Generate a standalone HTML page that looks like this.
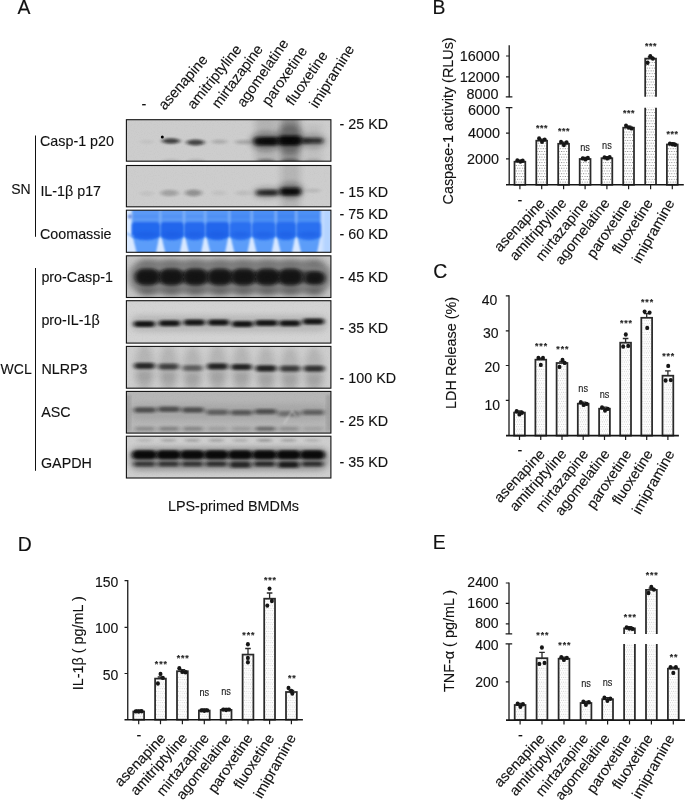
<!DOCTYPE html>
<html lang="en"><head><meta charset="utf-8"><title>Figure</title>
<style>html,body{margin:0;padding:0;background:#fff}body{width:685px;height:801px;overflow:hidden}svg{display:block}text{white-space:pre;stroke:#111;stroke-width:0.12px;paint-order:stroke}</style>
</head><body>
<svg width="685" height="801" viewBox="0 0 685 801" font-family='"Liberation Sans", Arial, Helvetica, sans-serif' fill="#111">
<defs>
<pattern id="dots" width="2.45" height="5.56" patternUnits="userSpaceOnUse"><rect width="2.45" height="5.56" fill="#fff"/><circle cx="0.6" cy="1.4" r="0.52" fill="#606060"/><circle cx="1.83" cy="4.18" r="0.52" fill="#606060"/></pattern>
<pattern id="dots2" width="2.2" height="4.6" patternUnits="userSpaceOnUse"><rect width="2.2" height="4.6" fill="#fff"/><circle cx="0.55" cy="1.15" r="0.45" fill="#a4a4a4"/><circle cx="1.65" cy="3.45" r="0.45" fill="#a4a4a4"/></pattern>
<filter id="b1" x="-50%" y="-100%" width="200%" height="300%"><feGaussianBlur stdDeviation="2.0 1.3"/></filter>
<filter id="b2" x="-50%" y="-100%" width="200%" height="300%"><feGaussianBlur stdDeviation="2.2 1.7"/></filter>
<filter id="b3" x="-100%" y="-100%" width="300%" height="300%"><feGaussianBlur stdDeviation="3 2.6"/></filter>
<filter id="b03" x="-50%" y="-50%" width="200%" height="200%"><feGaussianBlur stdDeviation="0.5"/></filter>
<filter id="b08" x="-20%" y="-50%" width="140%" height="200%"><feGaussianBlur stdDeviation="0.9"/></filter>
<filter id="b05" x="-20%" y="-100%" width="140%" height="300%"><feGaussianBlur stdDeviation="1.2 0.8"/></filter>
<filter id="noise" x="0" y="0" width="100%" height="100%"><feTurbulence type="fractalNoise" baseFrequency="0.9" numOctaves="2" seed="3" result="n"/><feColorMatrix type="matrix" values="0 0 0 0 0  0 0 0 0 0  0 0 0 0 0  0.9 0 0 0 -0.38"/></filter>
</defs>
<rect width="685" height="801" fill="#fff"/>
<text x="17.6" y="14.3" font-size="19.4" text-anchor="start">A</text>
<text x="432.6" y="14.2" font-size="19.4" text-anchor="start">B</text>
<text x="433.2" y="277.9" font-size="19.4" text-anchor="start">C</text>
<text x="17.7" y="551" font-size="19.4" text-anchor="start">D</text>
<text x="432.8" y="548.9" font-size="19.4" text-anchor="start">E</text>
<clipPath id="cp_casp"><rect x="126.4" y="119.7" width="204.49999999999997" height="41.499999999999986"/></clipPath>
<g clip-path="url(#cp_casp)"><rect x="126.4" y="119.7" width="204.49999999999997" height="41.499999999999986" fill="#cdcdcd"/>
<ellipse cx="147.0" cy="141.8" rx="7.0" ry="2.0" fill="#0a0a0a" opacity="0.05" filter="url(#b1)"/>
<ellipse cx="171.0" cy="141.0" rx="9.0" ry="2.8" fill="#0a0a0a" opacity="0.72" filter="url(#b1)"/>
<ellipse cx="195.5" cy="142.4" rx="9.0" ry="3.0" fill="#0a0a0a" opacity="0.7" filter="url(#b1)"/>
<ellipse cx="219.5" cy="141.8" rx="8.0" ry="2.2" fill="#0a0a0a" opacity="0.16" filter="url(#b1)"/>
<ellipse cx="243.5" cy="142.0" rx="8.5" ry="2.3" fill="#0a0a0a" opacity="0.18" filter="url(#b1)"/>
<rect x="255" y="116" width="22" height="50" fill="#111" opacity="0.13" filter="url(#b3)"/>
<rect x="280" y="112" width="20" height="56" fill="#111" opacity="0.30" filter="url(#b3)"/>
<rect x="304" y="124" width="18" height="42" fill="#111" opacity="0.06" filter="url(#b3)"/>
<ellipse cx="266.0" cy="141.3" rx="16.0" ry="10.0" fill="#0a0a0a" opacity="0.3" filter="url(#b3)"/>
<ellipse cx="290.0" cy="139.0" rx="14.0" ry="15.0" fill="#0a0a0a" opacity="0.3" filter="url(#b3)"/>
<ellipse cx="313.0" cy="141.0" rx="13.5" ry="7.5" fill="#0a0a0a" opacity="0.22" filter="url(#b3)"/>
<rect x="253.5" y="137.1" width="25.0" height="8.4" rx="4.2" fill="#0a0a0a" opacity="0.9" filter="url(#b2)"/>
<rect x="278.0" y="135.4" width="24.0" height="10.0" rx="5.0" fill="#0a0a0a" opacity="0.95" filter="url(#b2)"/>
<rect x="302.0" y="138.0" width="21.0" height="5.6" rx="2.8" fill="#0a0a0a" opacity="0.74" filter="url(#b2)"/>
<rect x="261.0" y="138.5" width="34.0" height="5.0" rx="2.5" fill="#0a0a0a" opacity="0.6" filter="url(#b2)"/>
<rect x="292.0" y="139.2" width="18.0" height="3.6" rx="1.8" fill="#0a0a0a" opacity="0.4" filter="url(#b2)"/>
<rect x="258.0" y="139.8" width="16.0" height="3.4" rx="1.7" fill="#000" opacity="0.45" filter="url(#b1)"/>
<rect x="282.0" y="138.3" width="16.0" height="4.6" rx="2.3" fill="#000" opacity="0.55" filter="url(#b1)"/>
<circle cx="162.3" cy="136.9" r="1.5" fill="#000" filter="url(#b03)"/>
<ellipse cx="171.0" cy="160.8" rx="9.0" ry="2.3" fill="#0a0a0a" opacity="0.08" filter="url(#b1)"/>
<ellipse cx="196.0" cy="160.8" rx="9.0" ry="2.3" fill="#0a0a0a" opacity="0.1" filter="url(#b1)"/>
<ellipse cx="266.0" cy="160.8" rx="9.0" ry="2.3" fill="#0a0a0a" opacity="0.3" filter="url(#b1)"/>
<ellipse cx="290.0" cy="160.8" rx="9.0" ry="2.3" fill="#0a0a0a" opacity="0.34" filter="url(#b1)"/>
<ellipse cx="313.0" cy="160.8" rx="9.0" ry="2.3" fill="#0a0a0a" opacity="0.12" filter="url(#b1)"/>
<rect x="126.4" y="119.7" width="204.49999999999997" height="41.499999999999986" filter="url(#noise)" opacity="0.05"/>
</g>
<rect x="126.4" y="119.7" width="204.49999999999997" height="41.499999999999986" fill="none" stroke="#111" stroke-width="1.1"/>
<clipPath id="cp_il1"><rect x="126.4" y="165.5" width="204.49999999999997" height="41.30000000000001"/></clipPath>
<g clip-path="url(#cp_il1)"><rect x="126.4" y="165.5" width="204.49999999999997" height="41.30000000000001" fill="#cdcdcd"/>
<ellipse cx="147.0" cy="193.5" rx="7.0" ry="2.5" fill="#0a0a0a" opacity="0.05" filter="url(#b1)"/>
<ellipse cx="169.5" cy="193.0" rx="9.0" ry="3.2" fill="#0a0a0a" opacity="0.22" filter="url(#b1)"/>
<ellipse cx="193.5" cy="192.9" rx="8.5" ry="3.5" fill="#0a0a0a" opacity="0.3" filter="url(#b1)"/>
<ellipse cx="219.0" cy="193.0" rx="7.0" ry="2.5" fill="#0a0a0a" opacity="0.06" filter="url(#b1)"/>
<ellipse cx="243.0" cy="193.0" rx="7.5" ry="2.5" fill="#0a0a0a" opacity="0.08" filter="url(#b1)"/>
<ellipse cx="313.0" cy="190.5" rx="7.5" ry="2.0" fill="#0a0a0a" opacity="0.1" filter="url(#b1)"/>
<rect x="281" y="160" width="19" height="52" fill="#111" opacity="0.12" filter="url(#b3)"/>
<ellipse cx="267.0" cy="192.6" rx="14.0" ry="6.5" fill="#0a0a0a" opacity="0.2" filter="url(#b3)"/>
<ellipse cx="290.5" cy="190.5" rx="13.0" ry="8.5" fill="#0a0a0a" opacity="0.3" filter="url(#b3)"/>
<rect x="256.0" y="189.8" width="22.0" height="6.0" rx="3.0" fill="#0a0a0a" opacity="0.72" filter="url(#b2)"/>
<rect x="280.0" y="187.6" width="21.0" height="8.0" rx="4.0" fill="#0a0a0a" opacity="0.9" filter="url(#b2)"/>
<rect x="264.0" y="190.7" width="28.0" height="3.4" rx="1.7" fill="#0a0a0a" opacity="0.3" filter="url(#b2)"/>
<rect x="283.5" y="190.1" width="14.0" height="3.4" rx="1.7" fill="#000" opacity="0.45" filter="url(#b1)"/>
<rect x="260.5" y="191.7" width="13.0" height="2.2" rx="1.1" fill="#000" opacity="0.2" filter="url(#b1)"/>
<rect x="126.4" y="165.5" width="204.49999999999997" height="41.30000000000001" filter="url(#noise)" opacity="0.05"/>
</g>
<rect x="126.4" y="165.5" width="204.49999999999997" height="41.30000000000001" fill="none" stroke="#111" stroke-width="1.1"/>
<clipPath id="cp_coo"><rect x="126.4" y="210.2" width="204.49999999999997" height="42.10000000000002"/></clipPath>
<g clip-path="url(#cp_coo)"><rect x="126.4" y="210.2" width="204.49999999999997" height="42.10000000000002" fill="#d9e9ff"/>
<g filter="url(#b08)">
<rect x="131.6" y="208.2" width="189.8" height="29" fill="#7fb2f9"/>
<rect x="132.6" y="208.2" width="26.7" height="16" fill="#5b99f6"/>
<path d="M132.1 234 L159.8 234 L155.7 254.3 L137.0 254.3 Z" fill="#5c9df9"/>
<rect x="133.6" y="215.6" width="24.7" height="1.6" fill="#2d6fe8" opacity="0.3"/>
<rect x="161.3" y="208.2" width="21.7" height="16" fill="#5b99f6"/>
<path d="M160.8 234 L183.5 234 L179.4 254.3 L165.7 254.3 Z" fill="#5c9df9"/>
<rect x="162.3" y="215.6" width="19.7" height="1.6" fill="#2d6fe8" opacity="0.3"/>
<rect x="185.0" y="208.2" width="19.3" height="16" fill="#5d9bf7"/>
<path d="M184.5 234 L204.8 234 L200.7 254.3 L189.4 254.3 Z" fill="#5c9df9"/>
<rect x="186.0" y="215.6" width="17.3" height="1.6" fill="#2d6fe8" opacity="0.3"/>
<rect x="206.3" y="208.2" width="22.1" height="16" fill="#5696f6"/>
<path d="M205.8 234 L228.9 234 L224.8 254.3 L210.7 254.3 Z" fill="#5c9df9"/>
<rect x="207.3" y="215.6" width="20.1" height="1.6" fill="#2d6fe8" opacity="0.3"/>
<rect x="230.4" y="208.2" width="20.3" height="16" fill="#4b8ef5"/>
<path d="M229.9 234 L251.2 234 L247.1 254.3 L234.8 254.3 Z" fill="#5c9df9"/>
<rect x="231.4" y="215.6" width="18.3" height="1.6" fill="#2d6fe8" opacity="0.3"/>
<rect x="252.7" y="208.2" width="22.1" height="16" fill="#4b8ef5"/>
<path d="M252.2 234 L275.3 234 L271.2 254.3 L257.1 254.3 Z" fill="#5c9df9"/>
<rect x="253.7" y="215.6" width="20.1" height="1.6" fill="#2d6fe8" opacity="0.3"/>
<rect x="276.8" y="208.2" width="18.4" height="16" fill="#468af4"/>
<path d="M276.3 234 L295.7 234 L291.6 254.3 L281.2 254.3 Z" fill="#5c9df9"/>
<rect x="277.8" y="215.6" width="16.4" height="1.6" fill="#2d6fe8" opacity="0.3"/>
<rect x="297.2" y="208.2" width="23.2" height="16" fill="#4e90f5"/>
<path d="M296.7 234 L320.9 234 L316.8 254.3 L301.6 254.3 Z" fill="#5c9df9"/>
<rect x="298.2" y="215.6" width="21.2" height="1.6" fill="#2d6fe8" opacity="0.3"/>
</g>
<path d="M131.8 226 Q131.8 222.0 135.6 222.0 L156.3 222.0 Q160.1 222.0 160.1 226 L160.1 234.6 Q159.7 240.0 145.9 240.2 Q132.2 240.0 131.8 234.6 Z" fill="#2369ee" filter="url(#b08)"/>
<ellipse cx="145.9" cy="234.5" rx="12.4" ry="3.0" fill="#1456de" opacity="0.38" filter="url(#b1)"/>
<path d="M160.5 226 Q160.5 222.0 164.3 222.0 L180.0 222.0 Q183.8 222.0 183.8 226 L183.8 234.6 Q183.4 240.0 172.2 240.2 Q160.9 240.0 160.5 234.6 Z" fill="#2166ec" filter="url(#b08)"/>
<ellipse cx="172.2" cy="234.5" rx="9.8" ry="3.0" fill="#1456de" opacity="0.38" filter="url(#b1)"/>
<path d="M184.2 226 Q184.2 222.0 188.0 222.0 L201.3 222.0 Q205.1 222.0 205.1 226 L205.1 234.6 Q204.7 240.0 194.7 240.2 Q184.6 240.0 184.2 234.6 Z" fill="#256bee" filter="url(#b08)"/>
<ellipse cx="194.7" cy="234.5" rx="8.7" ry="3.0" fill="#1456de" opacity="0.38" filter="url(#b1)"/>
<path d="M205.5 226 Q205.5 222.0 209.3 222.0 L225.4 222.0 Q229.2 222.0 229.2 226 L229.2 234.6 Q228.8 240.0 217.4 240.2 Q205.9 240.0 205.5 234.6 Z" fill="#2166ec" filter="url(#b08)"/>
<ellipse cx="217.4" cy="234.5" rx="10.0" ry="3.0" fill="#1456de" opacity="0.38" filter="url(#b1)"/>
<path d="M229.6 226 Q229.6 222.0 233.4 222.0 L247.7 222.0 Q251.5 222.0 251.5 226 L251.5 234.6 Q251.1 240.0 240.6 240.2 Q230.0 240.0 229.6 234.6 Z" fill="#2970f0" filter="url(#b08)"/>
<ellipse cx="240.6" cy="234.5" rx="9.1" ry="3.0" fill="#1456de" opacity="0.38" filter="url(#b1)"/>
<path d="M251.9 226 Q251.9 222.0 255.7 222.0 L271.8 222.0 Q275.6 222.0 275.6 226 L275.6 234.6 Q275.2 240.0 263.8 240.2 Q252.3 240.0 251.9 234.6 Z" fill="#2970f0" filter="url(#b08)"/>
<ellipse cx="263.8" cy="234.5" rx="10.1" ry="3.0" fill="#1456de" opacity="0.38" filter="url(#b1)"/>
<path d="M276.0 226 Q276.0 222.0 279.8 222.0 L292.2 222.0 Q296.0 222.0 296.0 226 L296.0 234.6 Q295.6 240.0 286.0 240.2 Q276.4 240.0 276.0 234.6 Z" fill="#256cee" filter="url(#b08)"/>
<ellipse cx="286.0" cy="234.5" rx="8.2" ry="3.0" fill="#1456de" opacity="0.38" filter="url(#b1)"/>
<path d="M296.4 226 Q296.4 222.0 300.2 222.0 L317.4 222.0 Q321.2 222.0 321.2 226 L321.2 234.6 Q320.8 240.0 308.8 240.2 Q296.8 240.0 296.4 234.6 Z" fill="#2970f0" filter="url(#b08)"/>
<ellipse cx="308.8" cy="234.5" rx="10.6" ry="3.0" fill="#1456de" opacity="0.38" filter="url(#b1)"/>
<circle cx="130" cy="216.5" r="2.2" fill="#4a6fd0" opacity="0.7" filter="url(#b05)"/>
<path d="M127 233 Q131 237 134 236" stroke="#6aa4f8" stroke-width="2" fill="none" opacity="0.7" filter="url(#b05)"/>
<rect x="322.5" y="210.2" width="10" height="44" fill="#a9cdff" opacity="0.8" filter="url(#b1)"/>
</g>
<rect x="126.4" y="210.2" width="204.49999999999997" height="42.10000000000002" fill="none" stroke="#111" stroke-width="1.1"/>
<clipPath id="cp_pcasp"><rect x="126.4" y="255.8" width="204.49999999999997" height="41.69999999999999"/></clipPath>
<g clip-path="url(#cp_pcasp)"><rect x="126.4" y="255.8" width="204.49999999999997" height="41.69999999999999" fill="#c4c4c4"/>
<rect x="129" y="260" width="202" height="34" rx="16" fill="#555" opacity="0.62" filter="url(#b3)"/>
<rect x="136" y="271" width="186" height="12" rx="6" fill="#111" opacity="0.45" filter="url(#b2)"/>
<rect x="135.1" y="268.5" width="24.5" height="17.0" rx="8.5" fill="#0c0c0c" opacity="0.8" filter="url(#b2)"/>
<rect x="138.8" y="273.0" width="17.0" height="8.0" rx="4.0" fill="#000" opacity="0.2" filter="url(#b2)"/>
<ellipse cx="147.3" cy="292.0" rx="8.5" ry="4.5" fill="#0a0a0a" opacity="0.25" filter="url(#b3)"/>
<ellipse cx="147.3" cy="262.0" rx="8.5" ry="3.5" fill="#0a0a0a" opacity="0.12" filter="url(#b3)"/>
<rect x="159.2" y="268.5" width="24.5" height="17.0" rx="8.5" fill="#0c0c0c" opacity="0.8" filter="url(#b2)"/>
<rect x="162.9" y="273.0" width="17.0" height="8.0" rx="4.0" fill="#000" opacity="0.2" filter="url(#b2)"/>
<ellipse cx="171.4" cy="292.0" rx="8.5" ry="4.5" fill="#0a0a0a" opacity="0.25" filter="url(#b3)"/>
<ellipse cx="171.4" cy="262.0" rx="8.5" ry="3.5" fill="#0a0a0a" opacity="0.12" filter="url(#b3)"/>
<rect x="183.2" y="268.5" width="24.5" height="17.0" rx="8.5" fill="#0c0c0c" opacity="0.8" filter="url(#b2)"/>
<rect x="187.0" y="273.0" width="17.0" height="8.0" rx="4.0" fill="#000" opacity="0.2" filter="url(#b2)"/>
<ellipse cx="195.5" cy="292.0" rx="8.5" ry="4.5" fill="#0a0a0a" opacity="0.25" filter="url(#b3)"/>
<ellipse cx="195.5" cy="262.0" rx="8.5" ry="3.5" fill="#0a0a0a" opacity="0.12" filter="url(#b3)"/>
<rect x="207.8" y="268.5" width="24.5" height="17.0" rx="8.5" fill="#0c0c0c" opacity="0.8" filter="url(#b2)"/>
<rect x="211.5" y="273.0" width="17.0" height="8.0" rx="4.0" fill="#000" opacity="0.2" filter="url(#b2)"/>
<ellipse cx="220.0" cy="292.0" rx="8.5" ry="4.5" fill="#0a0a0a" opacity="0.25" filter="url(#b3)"/>
<ellipse cx="220.0" cy="262.0" rx="8.5" ry="3.5" fill="#0a0a0a" opacity="0.12" filter="url(#b3)"/>
<rect x="231.3" y="268.5" width="24.5" height="17.0" rx="8.5" fill="#0c0c0c" opacity="0.8" filter="url(#b2)"/>
<rect x="235.1" y="273.0" width="17.0" height="8.0" rx="4.0" fill="#000" opacity="0.2" filter="url(#b2)"/>
<ellipse cx="243.6" cy="292.0" rx="8.5" ry="4.5" fill="#0a0a0a" opacity="0.25" filter="url(#b3)"/>
<ellipse cx="243.6" cy="262.0" rx="8.5" ry="3.5" fill="#0a0a0a" opacity="0.12" filter="url(#b3)"/>
<rect x="255.2" y="268.5" width="24.5" height="17.0" rx="8.5" fill="#0c0c0c" opacity="0.8" filter="url(#b2)"/>
<rect x="259.0" y="273.0" width="17.0" height="8.0" rx="4.0" fill="#000" opacity="0.2" filter="url(#b2)"/>
<ellipse cx="267.5" cy="292.0" rx="8.5" ry="4.5" fill="#0a0a0a" opacity="0.25" filter="url(#b3)"/>
<ellipse cx="267.5" cy="262.0" rx="8.5" ry="3.5" fill="#0a0a0a" opacity="0.12" filter="url(#b3)"/>
<rect x="278.2" y="268.5" width="24.5" height="17.0" rx="8.5" fill="#0c0c0c" opacity="0.8" filter="url(#b2)"/>
<rect x="282.0" y="273.0" width="17.0" height="8.0" rx="4.0" fill="#000" opacity="0.2" filter="url(#b2)"/>
<ellipse cx="290.5" cy="292.0" rx="8.5" ry="4.5" fill="#0a0a0a" opacity="0.25" filter="url(#b3)"/>
<ellipse cx="290.5" cy="262.0" rx="8.5" ry="3.5" fill="#0a0a0a" opacity="0.12" filter="url(#b3)"/>
<rect x="304.8" y="271.7" width="20.5" height="13.0" rx="6.5" fill="#0c0c0c" opacity="0.8" filter="url(#b2)"/>
<rect x="308.5" y="276.2" width="13.0" height="4.0" rx="2.0" fill="#000" opacity="0.2" filter="url(#b2)"/>
<ellipse cx="315.0" cy="292.0" rx="8.5" ry="4.5" fill="#0a0a0a" opacity="0.25" filter="url(#b3)"/>
<ellipse cx="315.0" cy="262.0" rx="8.5" ry="3.5" fill="#0a0a0a" opacity="0.12" filter="url(#b3)"/>
<rect x="126.4" y="255.8" width="204.49999999999997" height="41.69999999999999" filter="url(#noise)" opacity="0.05"/>
</g>
<rect x="126.4" y="255.8" width="204.49999999999997" height="41.69999999999999" fill="none" stroke="#111" stroke-width="1.1"/>
<clipPath id="cp_pil"><rect x="126.4" y="300.7" width="204.49999999999997" height="42.400000000000034"/></clipPath>
<g clip-path="url(#cp_pil)"><rect x="126.4" y="300.7" width="204.49999999999997" height="42.400000000000034" fill="#d3d3d3"/>
<rect x="131" y="315" width="196" height="17" rx="8" fill="#555" opacity="0.20" filter="url(#b3)"/>
<rect x="133.6" y="321.1" width="21.5" height="6.0" rx="3.0" fill="#0c0c0c" opacity="0.88" filter="url(#b1)"/>
<rect x="136.6" y="322.8" width="15.5" height="2.6" rx="1.3" fill="#000" opacity="0.4" filter="url(#b1)"/>
<rect x="158.8" y="320.3" width="21.5" height="6.0" rx="3.0" fill="#0c0c0c" opacity="0.88" filter="url(#b1)"/>
<rect x="161.8" y="322.0" width="15.5" height="2.6" rx="1.3" fill="#000" opacity="0.4" filter="url(#b1)"/>
<rect x="183.6" y="319.6" width="21.5" height="6.0" rx="3.0" fill="#0c0c0c" opacity="0.88" filter="url(#b1)"/>
<rect x="186.6" y="321.3" width="15.5" height="2.6" rx="1.3" fill="#000" opacity="0.4" filter="url(#b1)"/>
<rect x="207.8" y="319.6" width="21.5" height="6.0" rx="3.0" fill="#0c0c0c" opacity="0.88" filter="url(#b1)"/>
<rect x="210.8" y="321.3" width="15.5" height="2.6" rx="1.3" fill="#000" opacity="0.4" filter="url(#b1)"/>
<rect x="231.8" y="321.1" width="21.5" height="6.0" rx="3.0" fill="#0c0c0c" opacity="0.88" filter="url(#b1)"/>
<rect x="234.8" y="322.8" width="15.5" height="2.6" rx="1.3" fill="#000" opacity="0.4" filter="url(#b1)"/>
<rect x="254.8" y="320.0" width="23.0" height="6.0" rx="3.0" fill="#0c0c0c" opacity="0.88" filter="url(#b1)"/>
<rect x="257.8" y="321.7" width="17.0" height="2.6" rx="1.3" fill="#000" opacity="0.4" filter="url(#b1)"/>
<rect x="279.1" y="320.2" width="21.5" height="6.0" rx="3.0" fill="#0c0c0c" opacity="0.88" filter="url(#b1)"/>
<rect x="282.1" y="321.9" width="15.5" height="2.6" rx="1.3" fill="#000" opacity="0.4" filter="url(#b1)"/>
<rect x="302.6" y="318.6" width="21.5" height="6.0" rx="3.0" fill="#0c0c0c" opacity="0.88" filter="url(#b1)"/>
<rect x="305.6" y="320.3" width="15.5" height="2.6" rx="1.3" fill="#000" opacity="0.4" filter="url(#b1)"/>
<rect x="126.4" y="300.7" width="204.49999999999997" height="42.400000000000034" filter="url(#noise)" opacity="0.05"/>
</g>
<rect x="126.4" y="300.7" width="204.49999999999997" height="42.400000000000034" fill="none" stroke="#111" stroke-width="1.1"/>
<clipPath id="cp_nlrp"><rect x="126.4" y="346.4" width="204.49999999999997" height="41.80000000000001"/></clipPath>
<g clip-path="url(#cp_nlrp)"><rect x="126.4" y="346.4" width="204.49999999999997" height="41.80000000000001" fill="#cdcdcd"/>
<ellipse cx="144.5" cy="368.4" rx="9.5" ry="24.0" fill="#0a0a0a" opacity="0.12" filter="url(#b3)"/>
<rect x="134.0" y="362.7" width="21.0" height="6.2" rx="3.1" fill="#0c0c0c" opacity="0.765" filter="url(#b1)"/>
<rect x="137.5" y="364.6" width="14.0" height="2.4" rx="1.2" fill="#000" opacity="0.2975" filter="url(#b1)"/>
<ellipse cx="144.5" cy="376.4" rx="8.0" ry="6.0" fill="#0a0a0a" opacity="0.1" filter="url(#b3)"/>
<ellipse cx="168.5" cy="369.2" rx="9.5" ry="24.0" fill="#0a0a0a" opacity="0.12" filter="url(#b3)"/>
<rect x="158.0" y="363.5" width="21.0" height="6.2" rx="3.1" fill="#0c0c0c" opacity="0.6120000000000001" filter="url(#b1)"/>
<rect x="161.5" y="365.4" width="14.0" height="2.4" rx="1.2" fill="#000" opacity="0.238" filter="url(#b1)"/>
<ellipse cx="168.5" cy="377.2" rx="8.0" ry="6.0" fill="#0a0a0a" opacity="0.1" filter="url(#b3)"/>
<ellipse cx="192.5" cy="370.6" rx="9.5" ry="24.0" fill="#0a0a0a" opacity="0.12" filter="url(#b3)"/>
<rect x="182.0" y="364.9" width="21.0" height="6.2" rx="3.1" fill="#0c0c0c" opacity="0.432" filter="url(#b1)"/>
<rect x="185.5" y="366.8" width="14.0" height="2.4" rx="1.2" fill="#000" opacity="0.16799999999999998" filter="url(#b1)"/>
<ellipse cx="192.5" cy="378.6" rx="8.0" ry="6.0" fill="#0a0a0a" opacity="0.1" filter="url(#b3)"/>
<ellipse cx="217.5" cy="369.0" rx="9.5" ry="24.0" fill="#0a0a0a" opacity="0.12" filter="url(#b3)"/>
<rect x="207.0" y="363.3" width="21.0" height="6.2" rx="3.1" fill="#0c0c0c" opacity="0.792" filter="url(#b1)"/>
<rect x="210.5" y="365.2" width="14.0" height="2.4" rx="1.2" fill="#000" opacity="0.308" filter="url(#b1)"/>
<ellipse cx="217.5" cy="377.0" rx="8.0" ry="6.0" fill="#0a0a0a" opacity="0.1" filter="url(#b3)"/>
<ellipse cx="241.5" cy="369.6" rx="9.5" ry="24.0" fill="#0a0a0a" opacity="0.12" filter="url(#b3)"/>
<rect x="231.0" y="363.9" width="21.0" height="6.2" rx="3.1" fill="#0c0c0c" opacity="0.792" filter="url(#b1)"/>
<rect x="234.5" y="365.8" width="14.0" height="2.4" rx="1.2" fill="#000" opacity="0.308" filter="url(#b1)"/>
<ellipse cx="241.5" cy="377.6" rx="8.0" ry="6.0" fill="#0a0a0a" opacity="0.1" filter="url(#b3)"/>
<ellipse cx="266.0" cy="371.0" rx="9.5" ry="24.0" fill="#0a0a0a" opacity="0.12" filter="url(#b3)"/>
<rect x="255.5" y="365.3" width="21.0" height="6.2" rx="3.1" fill="#0c0c0c" opacity="0.81" filter="url(#b1)"/>
<rect x="259.0" y="367.2" width="14.0" height="2.4" rx="1.2" fill="#000" opacity="0.315" filter="url(#b1)"/>
<ellipse cx="266.0" cy="379.0" rx="8.0" ry="6.0" fill="#0a0a0a" opacity="0.1" filter="url(#b3)"/>
<ellipse cx="290.0" cy="371.2" rx="9.5" ry="24.0" fill="#0a0a0a" opacity="0.12" filter="url(#b3)"/>
<rect x="279.5" y="365.5" width="21.0" height="6.2" rx="3.1" fill="#0c0c0c" opacity="0.648" filter="url(#b1)"/>
<rect x="283.0" y="367.4" width="14.0" height="2.4" rx="1.2" fill="#000" opacity="0.252" filter="url(#b1)"/>
<ellipse cx="290.0" cy="379.2" rx="8.0" ry="6.0" fill="#0a0a0a" opacity="0.1" filter="url(#b3)"/>
<ellipse cx="314.0" cy="371.2" rx="9.5" ry="24.0" fill="#0a0a0a" opacity="0.12" filter="url(#b3)"/>
<rect x="303.5" y="365.5" width="21.0" height="6.2" rx="3.1" fill="#0c0c0c" opacity="0.7020000000000001" filter="url(#b1)"/>
<rect x="307.0" y="367.4" width="14.0" height="2.4" rx="1.2" fill="#000" opacity="0.27299999999999996" filter="url(#b1)"/>
<ellipse cx="314.0" cy="379.2" rx="8.0" ry="6.0" fill="#0a0a0a" opacity="0.1" filter="url(#b3)"/>
<rect x="126.4" y="346.4" width="204.49999999999997" height="41.80000000000001" filter="url(#noise)" opacity="0.05"/>
</g>
<rect x="126.4" y="346.4" width="204.49999999999997" height="41.80000000000001" fill="none" stroke="#111" stroke-width="1.1"/>
<clipPath id="cp_asc"><rect x="126.4" y="391.4" width="204.49999999999997" height="41.700000000000045"/></clipPath>
<g clip-path="url(#cp_asc)"><rect x="126.4" y="391.4" width="204.49999999999997" height="41.700000000000045" fill="#bebebe"/>
<rect x="126.4" y="391" width="205" height="43" fill="#999" opacity="0.18"/>
<rect x="131" y="404" width="196" height="16" rx="8" fill="#666" opacity="0.18" filter="url(#b3)"/>
<rect x="134.0" y="407.3" width="22.0" height="5.4" rx="2.7" fill="#111" opacity="0.56" filter="url(#b1)"/>
<rect x="158.0" y="406.5" width="22.0" height="5.4" rx="2.7" fill="#111" opacity="0.56" filter="url(#b1)"/>
<rect x="182.0" y="407.3" width="22.0" height="5.4" rx="2.7" fill="#111" opacity="0.56" filter="url(#b1)"/>
<rect x="206.5" y="409.5" width="22.0" height="5.4" rx="2.7" fill="#111" opacity="0.46" filter="url(#b1)"/>
<rect x="230.5" y="409.9" width="22.0" height="5.4" rx="2.7" fill="#111" opacity="0.5" filter="url(#b1)"/>
<rect x="254.5" y="408.9" width="22.0" height="5.4" rx="2.7" fill="#111" opacity="0.56" filter="url(#b1)"/>
<rect x="278.0" y="411.1" width="22.0" height="5.4" rx="2.7" fill="#111" opacity="0.36" filter="url(#b1)"/>
<rect x="302.0" y="409.7" width="22.0" height="5.4" rx="2.7" fill="#111" opacity="0.45" filter="url(#b1)"/>
<rect x="135.0" y="426.6" width="20.0" height="4.4" rx="2.2" fill="#111" opacity="0.22" filter="url(#b1)"/>
<rect x="159.0" y="426.6" width="20.0" height="4.4" rx="2.2" fill="#111" opacity="0.28" filter="url(#b1)"/>
<rect x="183.0" y="426.6" width="20.0" height="4.4" rx="2.2" fill="#111" opacity="0.26" filter="url(#b1)"/>
<rect x="207.5" y="426.6" width="20.0" height="4.4" rx="2.2" fill="#111" opacity="0.12" filter="url(#b1)"/>
<rect x="231.5" y="426.6" width="20.0" height="4.4" rx="2.2" fill="#111" opacity="0.14" filter="url(#b1)"/>
<rect x="255.5" y="426.6" width="20.0" height="4.4" rx="2.2" fill="#111" opacity="0.42" filter="url(#b1)"/>
<rect x="279.0" y="426.6" width="20.0" height="4.4" rx="2.2" fill="#111" opacity="0.2" filter="url(#b1)"/>
<rect x="303.0" y="426.6" width="20.0" height="4.4" rx="2.2" fill="#111" opacity="0.1" filter="url(#b1)"/>
<rect x="126" y="395" width="4" height="36" fill="#555" opacity="0.3" filter="url(#b1)"/>
<rect x="327" y="395" width="4" height="36" fill="#555" opacity="0.3" filter="url(#b1)"/>
<path d="M284 424 L292 411 L296 416" stroke="#e0e0e0" stroke-width="1.6" fill="none" opacity="0.5" filter="url(#b08)"/>
<rect x="126.4" y="391.4" width="204.49999999999997" height="41.700000000000045" filter="url(#noise)" opacity="0.05"/>
</g>
<rect x="126.4" y="391.4" width="204.49999999999997" height="41.700000000000045" fill="none" stroke="#111" stroke-width="1.1"/>
<clipPath id="cp_gapdh"><rect x="126.4" y="436.2" width="204.49999999999997" height="41.80000000000001"/></clipPath>
<g clip-path="url(#cp_gapdh)"><rect x="126.4" y="436.2" width="204.49999999999997" height="41.80000000000001" fill="#cecece"/>
<rect x="129" y="447" width="200" height="24" rx="10" fill="#555" opacity="0.42" filter="url(#b3)"/>
<rect x="132.0" y="450.2" width="25.0" height="9.4" rx="4.7" fill="#080808" opacity="0.95" filter="url(#b1)"/>
<rect x="134.0" y="452.5" width="21.0" height="4.6" rx="2.3" fill="#000" opacity="0.5" filter="url(#b1)"/>
<rect x="133.8" y="461.3" width="21.5" height="5.2" rx="2.6" fill="#0a0a0a" opacity="0.68" filter="url(#b1)"/>
<rect x="137.5" y="439.1" width="14.0" height="2.6" rx="1.3" fill="#111" opacity="0.12" filter="url(#b1)"/>
<rect x="156.0" y="450.2" width="25.0" height="9.4" rx="4.7" fill="#080808" opacity="0.95" filter="url(#b1)"/>
<rect x="158.0" y="452.5" width="21.0" height="4.6" rx="2.3" fill="#000" opacity="0.5" filter="url(#b1)"/>
<rect x="157.8" y="461.3" width="21.5" height="5.2" rx="2.6" fill="#0a0a0a" opacity="0.7" filter="url(#b1)"/>
<rect x="161.5" y="439.1" width="14.0" height="2.6" rx="1.3" fill="#111" opacity="0.2" filter="url(#b1)"/>
<rect x="179.8" y="450.2" width="25.0" height="9.4" rx="4.7" fill="#080808" opacity="0.95" filter="url(#b1)"/>
<rect x="181.8" y="452.5" width="21.0" height="4.6" rx="2.3" fill="#000" opacity="0.5" filter="url(#b1)"/>
<rect x="181.6" y="461.3" width="21.5" height="5.2" rx="2.6" fill="#0a0a0a" opacity="0.7" filter="url(#b1)"/>
<rect x="185.3" y="439.1" width="14.0" height="2.6" rx="1.3" fill="#111" opacity="0.22" filter="url(#b1)"/>
<rect x="203.8" y="450.2" width="25.0" height="9.4" rx="4.7" fill="#080808" opacity="0.95" filter="url(#b1)"/>
<rect x="205.8" y="452.5" width="21.0" height="4.6" rx="2.3" fill="#000" opacity="0.5" filter="url(#b1)"/>
<rect x="205.6" y="461.3" width="21.5" height="5.2" rx="2.6" fill="#0a0a0a" opacity="0.74" filter="url(#b1)"/>
<rect x="209.3" y="439.1" width="14.0" height="2.6" rx="1.3" fill="#111" opacity="0.22" filter="url(#b1)"/>
<rect x="227.8" y="450.2" width="25.0" height="9.4" rx="4.7" fill="#080808" opacity="0.95" filter="url(#b1)"/>
<rect x="229.8" y="452.5" width="21.0" height="4.6" rx="2.3" fill="#000" opacity="0.5" filter="url(#b1)"/>
<rect x="229.6" y="461.6" width="21.5" height="6.2" rx="3.1" fill="#0a0a0a" opacity="0.8" filter="url(#b1)"/>
<rect x="233.3" y="439.1" width="14.0" height="2.6" rx="1.3" fill="#111" opacity="0.16" filter="url(#b1)"/>
<rect x="252.0" y="450.2" width="25.0" height="9.4" rx="4.7" fill="#080808" opacity="0.95" filter="url(#b1)"/>
<rect x="254.0" y="452.5" width="21.0" height="4.6" rx="2.3" fill="#000" opacity="0.5" filter="url(#b1)"/>
<rect x="253.8" y="461.3" width="21.5" height="5.2" rx="2.6" fill="#0a0a0a" opacity="0.78" filter="url(#b1)"/>
<rect x="257.5" y="439.1" width="14.0" height="2.6" rx="1.3" fill="#111" opacity="0.28" filter="url(#b1)"/>
<rect x="276.0" y="450.2" width="25.0" height="9.4" rx="4.7" fill="#080808" opacity="0.95" filter="url(#b1)"/>
<rect x="278.0" y="452.5" width="21.0" height="4.6" rx="2.3" fill="#000" opacity="0.5" filter="url(#b1)"/>
<rect x="277.8" y="461.6" width="21.5" height="6.2" rx="3.1" fill="#0a0a0a" opacity="0.88" filter="url(#b1)"/>
<rect x="281.5" y="439.1" width="14.0" height="2.6" rx="1.3" fill="#111" opacity="0.22" filter="url(#b1)"/>
<rect x="299.8" y="450.2" width="25.0" height="9.4" rx="4.7" fill="#080808" opacity="0.95" filter="url(#b1)"/>
<rect x="301.8" y="452.5" width="21.0" height="4.6" rx="2.3" fill="#000" opacity="0.5" filter="url(#b1)"/>
<rect x="301.6" y="461.3" width="21.5" height="5.2" rx="2.6" fill="#0a0a0a" opacity="0.74" filter="url(#b1)"/>
<rect x="305.3" y="439.1" width="14.0" height="2.6" rx="1.3" fill="#111" opacity="0.14" filter="url(#b1)"/>
<rect x="126.4" y="436.2" width="204.49999999999997" height="41.80000000000001" filter="url(#noise)" opacity="0.05"/>
</g>
<rect x="126.4" y="436.2" width="204.49999999999997" height="41.80000000000001" fill="none" stroke="#111" stroke-width="1.1"/>
<text x="164.7" y="110.8" font-size="14.5" text-anchor="start" transform="rotate(-49.1 164.7 110.8)">asenapine</text>
<text x="193.8" y="110.0" font-size="14.5" text-anchor="start" transform="rotate(-51.2 193.8 110.0)">amitriptyline</text>
<text x="218.7" y="109.2" font-size="14.5" text-anchor="start" transform="rotate(-53.2 218.7 109.2)">mirtazapine</text>
<text x="243.9" y="108.1" font-size="14.5" text-anchor="start" transform="rotate(-55.1 243.9 108.1)">agomelatine</text>
<text x="269.1" y="106.5" font-size="14.5" text-anchor="start" transform="rotate(-55.1 269.1 106.5)">paroxetine</text>
<text x="292.9" y="106.4" font-size="14.5" text-anchor="start" transform="rotate(-55.2 292.9 106.4)">fluoxetine</text>
<text x="317.0" y="108.9" font-size="14.5" text-anchor="start" transform="rotate(-57.7 317.0 108.9)">imipramine</text>
<text x="141.6" y="109.2" font-size="14.5" text-anchor="start">-</text>
<path d="M35.5 135.5 V236.8 M35.5 268 V470.8" stroke="#111" stroke-width="1" fill="none"/>
<text x="40.0" y="145.8" font-size="14.3" text-anchor="start">Casp-1 p20</text>
<text x="40.4" y="195.8" font-size="14.3" text-anchor="start">IL-1β p17</text>
<text x="40.0" y="239.2" font-size="14.3" text-anchor="start">Coomassie</text>
<text x="11.2" y="194.4" font-size="14" text-anchor="start">SN</text>
<text x="41.4" y="282.4" font-size="14.3" text-anchor="start">pro-Casp-1</text>
<text x="41.4" y="324.9" font-size="14.3" text-anchor="start">pro-IL-1β</text>
<text x="41.4" y="373.7" font-size="14.3" text-anchor="start">NLRP3</text>
<text x="41.2" y="416.9" font-size="14.3" text-anchor="start">ASC</text>
<text x="41.0" y="467.8" font-size="14.3" text-anchor="start">GAPDH</text>
<text x="0.6" y="373.7" font-size="14" text-anchor="start">WCL</text>
<text x="339.6" y="129.3" font-size="14.3" text-anchor="start">- 25 KD</text>
<text x="339.6" y="197.1" font-size="14.3" text-anchor="start">- 15 KD</text>
<text x="339.6" y="218.6" font-size="14.3" text-anchor="start">- 75 KD</text>
<text x="339.6" y="239.2" font-size="14.3" text-anchor="start">- 60 KD</text>
<text x="339.6" y="282.4" font-size="14.3" text-anchor="start">- 45 KD</text>
<text x="339.6" y="332.6" font-size="14.3" text-anchor="start">- 35 KD</text>
<text x="339.6" y="382.9" font-size="14.3" text-anchor="start">- 100 KD</text>
<text x="339.6" y="426" font-size="14.3" text-anchor="start">- 25 KD</text>
<text x="339.6" y="467.3" font-size="14.3" text-anchor="start">- 35 KD</text>
<text x="233.5" y="511" font-size="14.4" text-anchor="middle">LPS-primed BMDMs</text>
<path d="M519.9 160.1 V162.7 M517.1 160.1 H522.6999999999999 M517.1 162.7 H522.6999999999999" stroke="#2a2a2a" stroke-width="1.3" fill="none"/>
<path d="M541.7 139.1 V141.7 M538.9000000000001 139.1 H544.5 M538.9000000000001 141.7 H544.5" stroke="#2a2a2a" stroke-width="1.3" fill="none"/>
<path d="M563.6 142.20000000000002 V144.8 M560.8000000000001 142.20000000000002 H566.4 M560.8000000000001 144.8 H566.4" stroke="#2a2a2a" stroke-width="1.3" fill="none"/>
<path d="M585.1 157.4 V160.0 M582.3000000000001 157.4 H587.9 M582.3000000000001 160.0 H587.9" stroke="#2a2a2a" stroke-width="1.3" fill="none"/>
<path d="M606.9 156.6 V159.2 M604.1 156.6 H609.6999999999999 M604.1 159.2 H609.6999999999999" stroke="#2a2a2a" stroke-width="1.3" fill="none"/>
<path d="M628.6 126.10000000000001 V128.7 M625.8000000000001 126.10000000000001 H631.4 M625.8000000000001 128.7 H631.4" stroke="#2a2a2a" stroke-width="1.3" fill="none"/>
<path d="M650.6 57.0 V59.6 M647.8000000000001 57.0 H653.4 M647.8000000000001 59.6 H653.4" stroke="#2a2a2a" stroke-width="1.3" fill="none"/>
<path d="M672.3 142.9 V145.5 M669.5 142.9 H675.0999999999999 M669.5 145.5 H675.0999999999999" stroke="#2a2a2a" stroke-width="1.3" fill="none"/>
<rect x="514.5" y="161.7" width="10.8" height="23.1" fill="url(#dots)" stroke="#2a2a2a" stroke-width="1.75"/>
<rect x="536.3" y="140.7" width="10.8" height="44.1" fill="url(#dots)" stroke="#2a2a2a" stroke-width="1.75"/>
<rect x="558.2" y="143.8" width="10.8" height="41.0" fill="url(#dots)" stroke="#2a2a2a" stroke-width="1.75"/>
<rect x="579.7" y="159.0" width="10.8" height="25.8" fill="url(#dots)" stroke="#2a2a2a" stroke-width="1.75"/>
<rect x="601.5" y="158.2" width="10.8" height="26.6" fill="url(#dots)" stroke="#2a2a2a" stroke-width="1.75"/>
<rect x="623.2" y="127.7" width="10.8" height="57.1" fill="url(#dots)" stroke="#2a2a2a" stroke-width="1.75"/>
<rect x="645.2" y="107.7" width="10.8" height="77.1" fill="url(#dots)"/>
<rect x="645.2" y="58.6" width="10.8" height="38.2" fill="url(#dots)"/>
<path d="M645.2 184.8 V107.7 M656.0 184.8 V107.7 M645.2 96.8 V58.6 H656.0 V96.8" fill="none" stroke="#2a2a2a" stroke-width="1.75"/>
<rect x="666.9" y="144.5" width="10.8" height="40.3" fill="url(#dots)" stroke="#2a2a2a" stroke-width="1.75"/>
<ellipse cx="517.3" cy="160.4" rx="2.0" ry="2.2" fill="#161616"/>
<ellipse cx="520.4" cy="161.6" rx="2.0" ry="2.2" fill="#161616"/>
<ellipse cx="522.7" cy="160.8" rx="2.0" ry="2.2" fill="#161616"/>
<ellipse cx="539.1" cy="138.4" rx="2.0" ry="2.2" fill="#161616"/>
<ellipse cx="542.0" cy="141.8" rx="2.0" ry="2.2" fill="#161616"/>
<ellipse cx="544.7" cy="139.6" rx="2.0" ry="2.2" fill="#161616"/>
<ellipse cx="561.0" cy="142.0" rx="2.0" ry="2.2" fill="#161616"/>
<ellipse cx="563.9" cy="145.0" rx="2.0" ry="2.2" fill="#161616"/>
<ellipse cx="566.6" cy="142.4" rx="2.0" ry="2.2" fill="#161616"/>
<ellipse cx="582.7" cy="158.4" rx="2.0" ry="2.2" fill="#161616"/>
<ellipse cx="585.4" cy="159.4" rx="2.0" ry="2.2" fill="#161616"/>
<ellipse cx="587.9" cy="158.0" rx="2.0" ry="2.2" fill="#161616"/>
<ellipse cx="604.5" cy="157.4" rx="2.0" ry="2.2" fill="#161616"/>
<ellipse cx="607.2" cy="158.4" rx="2.0" ry="2.2" fill="#161616"/>
<ellipse cx="609.7" cy="157.2" rx="2.0" ry="2.2" fill="#161616"/>
<ellipse cx="626.0" cy="125.6" rx="2.0" ry="2.2" fill="#161616"/>
<ellipse cx="628.9" cy="127.6" rx="2.0" ry="2.2" fill="#161616"/>
<ellipse cx="631.6" cy="128.4" rx="2.0" ry="2.2" fill="#161616"/>
<ellipse cx="650.3" cy="56.3" rx="2.0" ry="2.2" fill="#161616"/>
<ellipse cx="652.9" cy="58.6" rx="2.0" ry="2.2" fill="#161616"/>
<ellipse cx="647.6" cy="62.7" rx="2.0" ry="2.2" fill="#161616"/>
<ellipse cx="669.9" cy="143.6" rx="2.0" ry="2.2" fill="#161616"/>
<ellipse cx="672.6" cy="144.2" rx="2.0" ry="2.2" fill="#161616"/>
<ellipse cx="675.1" cy="144.8" rx="2.0" ry="2.2" fill="#161616"/>
<path d="M509.2 45.3 V97.2 M509.2 107.5 V184.8 " stroke="#1a1a1a" stroke-width="1.3" fill="none"/>
<path d="M506 184.8 H683.8" stroke="#161616" stroke-width="1.6" fill="none"/>
<path d="M506.0 56 H509.2 M506.0 76.8 H509.2 M506.0 133.2 H509.2 M506.0 158.8 H509.2 M505.8 96.8 H512.4 M505.8 107.7 H512.4 M519.9 184.8 V189.3 M541.7 184.8 V189.3 M563.6 184.8 V189.3 M585.1 184.8 V189.3 M606.9 184.8 V189.3 M628.6 184.8 V189.3 M650.6 184.8 V189.3 M672.3 184.8 V189.3 " stroke="#1c1c1c" stroke-width="1.2" fill="none"/>
<text x="499.9" y="61.0" font-size="14.4" text-anchor="end">16000</text>
<text x="499.9" y="81.8" font-size="14.4" text-anchor="end">12000</text>
<text x="498.5" y="98.8" font-size="14.4" text-anchor="end">8000</text>
<text x="499.9" y="115.2" font-size="14.4" text-anchor="end">6000</text>
<text x="499.9" y="138.2" font-size="14.4" text-anchor="end">4000</text>
<text x="498.9" y="163.8" font-size="14.4" text-anchor="end">2000</text>
<text x="453.2" y="120.9" font-size="14.4" text-anchor="middle" transform="rotate(-90 453.2 120.9)">Caspase-1 activity (RLUs)</text>
<text x="542.0" y="131.0" font-size="8.8" text-anchor="middle" fill="#222" font-weight="700" letter-spacing="0.58">***</text>
<text x="563.9" y="133.9" font-size="8.8" text-anchor="middle" fill="#222" font-weight="700" letter-spacing="0.58">***</text>
<text x="585.1" y="151.3" font-size="11.8" text-anchor="middle" fill="#161616" textLength="9.7" lengthAdjust="spacingAndGlyphs">ns</text>
<text x="606.9" y="148.8" font-size="11.8" text-anchor="middle" fill="#161616" textLength="9.7" lengthAdjust="spacingAndGlyphs">ns</text>
<text x="628.9" y="116.2" font-size="8.8" text-anchor="middle" fill="#222" font-weight="700" letter-spacing="0.58">***</text>
<text x="650.9" y="48.9" font-size="8.8" text-anchor="middle" fill="#222" font-weight="700" letter-spacing="0.58">***</text>
<text x="672.5" y="136.5" font-size="8.8" text-anchor="middle" fill="#222" font-weight="700" letter-spacing="0.58">***</text>
<text x="517.4" y="204.8" font-size="14.5" text-anchor="start">-</text>
<text x="545.9" y="204.0" font-size="14.5" text-anchor="end" transform="rotate(-46.7 545.9 204.0)">asenapine</text>
<text x="567.4" y="203.8" font-size="14.5" text-anchor="end" transform="rotate(-48.1 567.4 203.8)">amitriptyline</text>
<text x="589.0" y="203.5" font-size="14.5" text-anchor="end" transform="rotate(-51.4 589.0 203.5)">mirtazapine</text>
<text x="610.5" y="203.4" font-size="14.5" text-anchor="end" transform="rotate(-52.0 610.5 203.4)">agomelatine</text>
<text x="632.0" y="203.1" font-size="14.5" text-anchor="end" transform="rotate(-55.9 632.0 203.1)">paroxetine</text>
<text x="653.5" y="203.0" font-size="14.5" text-anchor="end" transform="rotate(-56.9 653.5 203.0)">fluoxetine</text>
<text x="675.0" y="202.7" font-size="14.5" text-anchor="end" transform="rotate(-60.4 675.0 202.7)">imipramine</text>
<path d="M519.5 411.0 V413.6 M516.7 411.0 H522.3 M516.7 413.6 H522.3" stroke="#2a2a2a" stroke-width="1.3" fill="none"/>
<path d="M540.75 358.09999999999997 V360.7 M537.95 358.09999999999997 H543.55 M537.95 360.7 H543.55" stroke="#2a2a2a" stroke-width="1.3" fill="none"/>
<path d="M562.0 361.4 V364.0 M559.2 361.4 H564.8 M559.2 364.0 H564.8" stroke="#2a2a2a" stroke-width="1.3" fill="none"/>
<path d="M583.2 402.09999999999997 V404.7 M580.4000000000001 402.09999999999997 H586.0 M580.4000000000001 404.7 H586.0" stroke="#2a2a2a" stroke-width="1.3" fill="none"/>
<path d="M604.5 407.09999999999997 V409.7 M601.7 407.09999999999997 H607.3 M601.7 409.7 H607.3" stroke="#2a2a2a" stroke-width="1.3" fill="none"/>
<path d="M625.6 338.5 V346.8 M622.8000000000001 338.5 H628.4 M622.8000000000001 346.8 H628.4" stroke="#2a2a2a" stroke-width="1.3" fill="none"/>
<path d="M646.7 313.6 V322 M643.9000000000001 313.6 H649.5 M643.9000000000001 322 H649.5" stroke="#2a2a2a" stroke-width="1.3" fill="none"/>
<path d="M667.9 370.9 V380 M665.1 370.9 H670.6999999999999 M665.1 380 H670.6999999999999" stroke="#2a2a2a" stroke-width="1.3" fill="none"/>
<rect x="514.1" y="412.6" width="10.8" height="23.0" fill="url(#dots2)" stroke="#2a2a2a" stroke-width="1.75"/>
<rect x="535.4" y="359.7" width="10.8" height="75.9" fill="url(#dots2)" stroke="#2a2a2a" stroke-width="1.75"/>
<rect x="556.6" y="363.0" width="10.8" height="72.6" fill="url(#dots2)" stroke="#2a2a2a" stroke-width="1.75"/>
<rect x="577.8" y="403.7" width="10.8" height="31.9" fill="url(#dots2)" stroke="#2a2a2a" stroke-width="1.75"/>
<rect x="599.1" y="408.7" width="10.8" height="26.9" fill="url(#dots2)" stroke="#2a2a2a" stroke-width="1.75"/>
<rect x="620.2" y="342.7" width="10.8" height="92.9" fill="url(#dots2)" stroke="#2a2a2a" stroke-width="1.75"/>
<rect x="641.3" y="317.8" width="10.8" height="117.8" fill="url(#dots2)" stroke="#2a2a2a" stroke-width="1.75"/>
<rect x="662.5" y="375.7" width="10.8" height="59.9" fill="url(#dots2)" stroke="#2a2a2a" stroke-width="1.75"/>
<ellipse cx="516.6" cy="411.2" rx="2.0" ry="2.2" fill="#161616"/>
<ellipse cx="519.4" cy="414.4" rx="2.0" ry="2.2" fill="#161616"/>
<ellipse cx="522.0" cy="412.8" rx="2.0" ry="2.2" fill="#161616"/>
<ellipse cx="538.4" cy="357.9" rx="2.0" ry="2.2" fill="#161616"/>
<ellipse cx="543.0" cy="357.9" rx="2.0" ry="2.2" fill="#161616"/>
<ellipse cx="540.8" cy="364.9" rx="2.0" ry="2.2" fill="#161616"/>
<ellipse cx="559.5" cy="366.9" rx="2.0" ry="2.2" fill="#161616"/>
<ellipse cx="562.5" cy="359.9" rx="2.0" ry="2.2" fill="#161616"/>
<ellipse cx="564.7" cy="362.9" rx="2.0" ry="2.2" fill="#161616"/>
<ellipse cx="580.8" cy="402.3" rx="2.0" ry="2.2" fill="#161616"/>
<ellipse cx="583.6" cy="404.9" rx="2.0" ry="2.2" fill="#161616"/>
<ellipse cx="586.6" cy="403.9" rx="2.0" ry="2.2" fill="#161616"/>
<ellipse cx="602.0" cy="407.5" rx="2.0" ry="2.2" fill="#161616"/>
<ellipse cx="605.0" cy="410.5" rx="2.0" ry="2.2" fill="#161616"/>
<ellipse cx="607.8" cy="408.9" rx="2.0" ry="2.2" fill="#161616"/>
<ellipse cx="625.8" cy="334.5" rx="2.0" ry="2.2" fill="#161616"/>
<ellipse cx="623.2" cy="346.5" rx="2.0" ry="2.2" fill="#161616"/>
<ellipse cx="628.2" cy="345.9" rx="2.0" ry="2.2" fill="#161616"/>
<ellipse cx="644.6" cy="311.6" rx="2.0" ry="2.2" fill="#161616"/>
<ellipse cx="649.6" cy="312.6" rx="2.0" ry="2.2" fill="#161616"/>
<ellipse cx="647.2" cy="327.9" rx="2.0" ry="2.2" fill="#161616"/>
<ellipse cx="668.2" cy="365.9" rx="2.0" ry="2.2" fill="#161616"/>
<ellipse cx="665.6" cy="380.5" rx="2.0" ry="2.2" fill="#161616"/>
<ellipse cx="670.8" cy="380.1" rx="2.0" ry="2.2" fill="#161616"/>
<path d="M509.0 295.2 V435.6 " stroke="#1a1a1a" stroke-width="1.3" fill="none"/>
<path d="M506 435.6 H678.9" stroke="#161616" stroke-width="1.6" fill="none"/>
<path d="M505.8 295.9 H509.0 M505.8 330.9 H509.0 M505.8 365.5 H509.0 M505.8 400.3 H509.0 M519.5 435.6 V440.1 M540.75 435.6 V440.1 M562.0 435.6 V440.1 M583.2 435.6 V440.1 M604.5 435.6 V440.1 M625.6 435.6 V440.1 M646.7 435.6 V440.1 M667.9 435.6 V440.1 " stroke="#1c1c1c" stroke-width="1.2" fill="none"/>
<text x="497.3" y="305.1" font-size="14" text-anchor="end">40</text>
<text x="498.5" y="338.2" font-size="14" text-anchor="end">30</text>
<text x="500.0" y="372.3" font-size="14" text-anchor="end">20</text>
<text x="500.0" y="409.8" font-size="14" text-anchor="end">10</text>
<text x="456.3" y="352.9" font-size="14.4" text-anchor="middle" transform="rotate(-90 456.3 352.9)">LDH Release (%)</text>
<text x="541.5" y="348.5" font-size="8.8" text-anchor="middle" fill="#222" font-weight="700" letter-spacing="0.87">***</text>
<text x="562.8" y="352.3" font-size="8.8" text-anchor="middle" fill="#222" font-weight="700" letter-spacing="0.87">***</text>
<text x="583.2" y="392.0" font-size="11.8" text-anchor="middle" fill="#161616" textLength="9.7" lengthAdjust="spacingAndGlyphs">ns</text>
<text x="604.5" y="397.6" font-size="11.8" text-anchor="middle" fill="#161616" textLength="9.7" lengthAdjust="spacingAndGlyphs">ns</text>
<text x="626.4" y="326.3" font-size="8.8" text-anchor="middle" fill="#222" font-weight="700" letter-spacing="0.87">***</text>
<text x="647.5" y="305.0" font-size="8.8" text-anchor="middle" fill="#222" font-weight="700" letter-spacing="0.87">***</text>
<text x="668.7" y="359.3" font-size="8.8" text-anchor="middle" fill="#222" font-weight="700" letter-spacing="0.87">***</text>
<text x="517.4" y="455.2" font-size="14.5" text-anchor="start">-</text>
<text x="545.9" y="454.8" font-size="14.5" text-anchor="end" transform="rotate(-46.7 545.9 454.8)">asenapine</text>
<text x="567.4" y="454.6" font-size="14.5" text-anchor="end" transform="rotate(-48.1 567.4 454.6)">amitriptyline</text>
<text x="589.0" y="454.3" font-size="14.5" text-anchor="end" transform="rotate(-51.4 589.0 454.3)">mirtazapine</text>
<text x="610.5" y="454.2" font-size="14.5" text-anchor="end" transform="rotate(-52.0 610.5 454.2)">agomelatine</text>
<text x="632.0" y="453.9" font-size="14.5" text-anchor="end" transform="rotate(-55.9 632.0 453.9)">paroxetine</text>
<text x="653.5" y="453.8" font-size="14.5" text-anchor="end" transform="rotate(-56.9 653.5 453.8)">fluoxetine</text>
<text x="675.0" y="453.5" font-size="14.5" text-anchor="end" transform="rotate(-60.4 675.0 453.5)">imipramine</text>
<path d="M138.7 709.9 V712.5 M135.89999999999998 709.9 H141.5 M135.89999999999998 712.5 H141.5" stroke="#2a2a2a" stroke-width="1.3" fill="none"/>
<path d="M160.5 677.0 V679.6 M157.7 677.0 H163.3 M157.7 679.6 H163.3" stroke="#2a2a2a" stroke-width="1.3" fill="none"/>
<path d="M182.4 669.6 V672.2 M179.6 669.6 H185.20000000000002 M179.6 672.2 H185.20000000000002" stroke="#2a2a2a" stroke-width="1.3" fill="none"/>
<path d="M204.3 708.9 V711.5 M201.5 708.9 H207.10000000000002 M201.5 711.5 H207.10000000000002" stroke="#2a2a2a" stroke-width="1.3" fill="none"/>
<path d="M226.1 708.3 V710.9 M223.29999999999998 708.3 H228.9 M223.29999999999998 710.9 H228.9" stroke="#2a2a2a" stroke-width="1.3" fill="none"/>
<path d="M248.0 648.5 V660 M245.2 648.5 H250.8 M245.2 660 H250.8" stroke="#2a2a2a" stroke-width="1.3" fill="none"/>
<path d="M269.6 593 V604 M266.8 593 H272.40000000000003 M266.8 604 H272.40000000000003" stroke="#2a2a2a" stroke-width="1.3" fill="none"/>
<path d="M291.4 690.4 V693.0 M288.59999999999997 690.4 H294.2 M288.59999999999997 693.0 H294.2" stroke="#2a2a2a" stroke-width="1.3" fill="none"/>
<rect x="133.3" y="711.5" width="10.8" height="8.2" fill="url(#dots2)" stroke="#2a2a2a" stroke-width="1.75"/>
<rect x="155.1" y="678.6" width="10.8" height="41.1" fill="url(#dots2)" stroke="#2a2a2a" stroke-width="1.75"/>
<rect x="177.0" y="671.2" width="10.8" height="48.5" fill="url(#dots2)" stroke="#2a2a2a" stroke-width="1.75"/>
<rect x="198.9" y="710.5" width="10.8" height="9.2" fill="url(#dots2)" stroke="#2a2a2a" stroke-width="1.75"/>
<rect x="220.7" y="709.9" width="10.8" height="9.8" fill="url(#dots2)" stroke="#2a2a2a" stroke-width="1.75"/>
<rect x="242.6" y="654.6" width="10.8" height="65.1" fill="url(#dots2)" stroke="#2a2a2a" stroke-width="1.75"/>
<rect x="264.2" y="598.7" width="10.8" height="121.0" fill="url(#dots2)" stroke="#2a2a2a" stroke-width="1.75"/>
<rect x="286.0" y="692.0" width="10.8" height="27.7" fill="url(#dots2)" stroke="#2a2a2a" stroke-width="1.75"/>
<ellipse cx="135.7" cy="711.4" rx="2.0" ry="2.2" fill="#161616"/>
<ellipse cx="138.7" cy="711.6" rx="2.0" ry="2.2" fill="#161616"/>
<ellipse cx="141.7" cy="711.2" rx="2.0" ry="2.2" fill="#161616"/>
<ellipse cx="160.5" cy="673.9" rx="2.0" ry="2.2" fill="#161616"/>
<ellipse cx="162.9" cy="677.9" rx="2.0" ry="2.2" fill="#161616"/>
<ellipse cx="157.9" cy="683.5" rx="2.0" ry="2.2" fill="#161616"/>
<ellipse cx="179.3" cy="668.3" rx="2.0" ry="2.2" fill="#161616"/>
<ellipse cx="182.3" cy="671.9" rx="2.0" ry="2.2" fill="#161616"/>
<ellipse cx="185.5" cy="672.3" rx="2.0" ry="2.2" fill="#161616"/>
<ellipse cx="201.3" cy="710.4" rx="2.0" ry="2.2" fill="#161616"/>
<ellipse cx="204.3" cy="710.8" rx="2.0" ry="2.2" fill="#161616"/>
<ellipse cx="207.3" cy="710.4" rx="2.0" ry="2.2" fill="#161616"/>
<ellipse cx="223.1" cy="709.6" rx="2.0" ry="2.2" fill="#161616"/>
<ellipse cx="226.1" cy="710.0" rx="2.0" ry="2.2" fill="#161616"/>
<ellipse cx="229.1" cy="709.6" rx="2.0" ry="2.2" fill="#161616"/>
<ellipse cx="247.9" cy="644.3" rx="2.0" ry="2.2" fill="#161616"/>
<ellipse cx="247.9" cy="657.9" rx="2.0" ry="2.2" fill="#161616"/>
<ellipse cx="247.9" cy="662.3" rx="2.0" ry="2.2" fill="#161616"/>
<ellipse cx="269.5" cy="588.6" rx="2.0" ry="2.2" fill="#161616"/>
<ellipse cx="271.9" cy="601.0" rx="2.0" ry="2.2" fill="#161616"/>
<ellipse cx="267.3" cy="605.6" rx="2.0" ry="2.2" fill="#161616"/>
<ellipse cx="288.5" cy="687.9" rx="2.0" ry="2.2" fill="#161616"/>
<ellipse cx="291.3" cy="690.9" rx="2.0" ry="2.2" fill="#161616"/>
<ellipse cx="292.3" cy="693.5" rx="2.0" ry="2.2" fill="#161616"/>
<path d="M127.75 580 V719.7 " stroke="#1a1a1a" stroke-width="1.3" fill="none"/>
<path d="M124.5 719.7 H302.9" stroke="#161616" stroke-width="1.6" fill="none"/>
<path d="M124.55 580.6 H127.75 M124.55 627.3 H127.75 M124.55 673.5 H127.75 M138.7 719.7 V724.2 M160.5 719.7 V724.2 M182.4 719.7 V724.2 M204.3 719.7 V724.2 M226.1 719.7 V724.2 M248.0 719.7 V724.2 M269.6 719.7 V724.2 M291.4 719.7 V724.2 " stroke="#1c1c1c" stroke-width="1.2" fill="none"/>
<text x="118.4" y="586.5" font-size="14" text-anchor="end">150</text>
<text x="118.4" y="633.4" font-size="14" text-anchor="end">100</text>
<text x="118.4" y="680.4" font-size="14" text-anchor="end">50</text>
<text x="82.6" y="643.2" font-size="14.4" text-anchor="middle" transform="rotate(-90 82.6 643.2)">IL-1β ( pg/mL )</text>
<text x="161.3" y="666.9" font-size="8.8" text-anchor="middle" fill="#222" font-weight="700" letter-spacing="0.87">***</text>
<text x="183.2" y="660.5" font-size="8.8" text-anchor="middle" fill="#222" font-weight="700" letter-spacing="0.87">***</text>
<text x="204.3" y="695.6" font-size="11.8" text-anchor="middle" fill="#161616" textLength="9.7" lengthAdjust="spacingAndGlyphs">ns</text>
<text x="226.1" y="694.6" font-size="11.8" text-anchor="middle" fill="#161616" textLength="9.7" lengthAdjust="spacingAndGlyphs">ns</text>
<text x="248.8" y="637.9" font-size="8.8" text-anchor="middle" fill="#222" font-weight="700" letter-spacing="0.87">***</text>
<text x="270.4" y="583.0" font-size="8.8" text-anchor="middle" fill="#222" font-weight="700" letter-spacing="0.87">***</text>
<text x="292.2" y="680.5" font-size="8.8" text-anchor="middle" fill="#222" font-weight="700" letter-spacing="0.87">**</text>
<text x="136.4" y="739.6" font-size="14.5" text-anchor="start">-</text>
<text x="166.5" y="738.9" font-size="14.5" text-anchor="end" transform="rotate(-46.7 166.5 738.9)">asenapine</text>
<text x="188.2" y="738.7" font-size="14.5" text-anchor="end" transform="rotate(-48.1 188.2 738.7)">amitriptyline</text>
<text x="209.9" y="738.4" font-size="14.5" text-anchor="end" transform="rotate(-51.4 209.9 738.4)">mirtazapine</text>
<text x="231.6" y="738.3" font-size="14.5" text-anchor="end" transform="rotate(-52.0 231.6 738.3)">agomelatine</text>
<text x="253.2" y="738.0" font-size="14.5" text-anchor="end" transform="rotate(-55.9 253.2 738.0)">paroxetine</text>
<text x="274.9" y="737.9" font-size="14.5" text-anchor="end" transform="rotate(-56.9 274.9 737.9)">fluoxetine</text>
<text x="296.5" y="737.6" font-size="14.5" text-anchor="end" transform="rotate(-60.4 296.5 737.6)">imipramine</text>
<path d="M520.1 703.4 V706.0 M517.3000000000001 703.4 H522.9 M517.3000000000001 706.0 H522.9" stroke="#2a2a2a" stroke-width="1.3" fill="none"/>
<path d="M542.0 652.3 V664 M539.2 652.3 H544.8 M539.2 664 H544.8" stroke="#2a2a2a" stroke-width="1.3" fill="none"/>
<path d="M564.0 657.1 V659.7 M561.2 657.1 H566.8 M561.2 659.7 H566.8" stroke="#2a2a2a" stroke-width="1.3" fill="none"/>
<path d="M586.0 701.4 V704.0 M583.2 701.4 H588.8 M583.2 704.0 H588.8" stroke="#2a2a2a" stroke-width="1.3" fill="none"/>
<path d="M607.6 697.6 V700.2 M604.8000000000001 697.6 H610.4 M604.8000000000001 700.2 H610.4" stroke="#2a2a2a" stroke-width="1.3" fill="none"/>
<path d="M629.5 626.6999999999999 V629.3 M626.7 626.6999999999999 H632.3 M626.7 629.3 H632.3" stroke="#2a2a2a" stroke-width="1.3" fill="none"/>
<path d="M651.4 588.1999999999999 V590.8 M648.6 588.1999999999999 H654.1999999999999 M648.6 590.8 H654.1999999999999" stroke="#2a2a2a" stroke-width="1.3" fill="none"/>
<path d="M673.3 667.1 V669.7 M670.5 667.1 H676.0999999999999 M670.5 669.7 H676.0999999999999" stroke="#2a2a2a" stroke-width="1.3" fill="none"/>
<rect x="514.7" y="705.0" width="10.8" height="15.1" fill="url(#dots2)" stroke="#2a2a2a" stroke-width="1.75"/>
<rect x="536.6" y="658.2" width="10.8" height="61.9" fill="url(#dots2)" stroke="#2a2a2a" stroke-width="1.75"/>
<rect x="558.6" y="658.7" width="10.8" height="61.4" fill="url(#dots2)" stroke="#2a2a2a" stroke-width="1.75"/>
<rect x="580.6" y="703.0" width="10.8" height="17.1" fill="url(#dots2)" stroke="#2a2a2a" stroke-width="1.75"/>
<rect x="602.2" y="699.2" width="10.8" height="20.9" fill="url(#dots2)" stroke="#2a2a2a" stroke-width="1.75"/>
<rect x="624.1" y="643.9" width="10.8" height="76.2" fill="url(#dots2)"/>
<rect x="624.1" y="628.3" width="10.8" height="5.6" fill="url(#dots2)"/>
<path d="M624.1 720.1 V643.9 M634.9 720.1 V643.9 M624.1 633.9 V628.3 H634.9 V633.9" fill="none" stroke="#2a2a2a" stroke-width="1.75"/>
<rect x="646.0" y="643.9" width="10.8" height="76.2" fill="url(#dots2)"/>
<rect x="646.0" y="589.8" width="10.8" height="44.1" fill="url(#dots2)"/>
<path d="M646.0 720.1 V643.9 M656.8 720.1 V643.9 M646.0 633.9 V589.8 H656.8 V633.9" fill="none" stroke="#2a2a2a" stroke-width="1.75"/>
<rect x="667.9" y="668.7" width="10.8" height="51.4" fill="url(#dots2)" stroke="#2a2a2a" stroke-width="1.75"/>
<ellipse cx="517.6" cy="703.8" rx="2.0" ry="2.2" fill="#161616"/>
<ellipse cx="520.4" cy="706.8" rx="2.0" ry="2.2" fill="#161616"/>
<ellipse cx="523.0" cy="704.2" rx="2.0" ry="2.2" fill="#161616"/>
<ellipse cx="541.9" cy="647.5" rx="2.0" ry="2.2" fill="#161616"/>
<ellipse cx="539.3" cy="663.9" rx="2.0" ry="2.2" fill="#161616"/>
<ellipse cx="544.5" cy="662.9" rx="2.0" ry="2.2" fill="#161616"/>
<ellipse cx="561.3" cy="657.3" rx="2.0" ry="2.2" fill="#161616"/>
<ellipse cx="563.9" cy="659.9" rx="2.0" ry="2.2" fill="#161616"/>
<ellipse cx="566.9" cy="657.9" rx="2.0" ry="2.2" fill="#161616"/>
<ellipse cx="583.3" cy="701.8" rx="2.0" ry="2.2" fill="#161616"/>
<ellipse cx="585.9" cy="704.8" rx="2.0" ry="2.2" fill="#161616"/>
<ellipse cx="588.9" cy="702.2" rx="2.0" ry="2.2" fill="#161616"/>
<ellipse cx="604.4" cy="697.8" rx="2.0" ry="2.2" fill="#161616"/>
<ellipse cx="607.4" cy="700.8" rx="2.0" ry="2.2" fill="#161616"/>
<ellipse cx="610.4" cy="698.8" rx="2.0" ry="2.2" fill="#161616"/>
<ellipse cx="626.6" cy="627.5" rx="2.0" ry="2.2" fill="#161616"/>
<ellipse cx="629.3" cy="628.5" rx="2.0" ry="2.2" fill="#161616"/>
<ellipse cx="632.5" cy="628.9" rx="2.0" ry="2.2" fill="#161616"/>
<ellipse cx="651.3" cy="587.0" rx="2.0" ry="2.2" fill="#161616"/>
<ellipse cx="653.9" cy="589.6" rx="2.0" ry="2.2" fill="#161616"/>
<ellipse cx="648.5" cy="593.0" rx="2.0" ry="2.2" fill="#161616"/>
<ellipse cx="670.5" cy="667.3" rx="2.0" ry="2.2" fill="#161616"/>
<ellipse cx="675.9" cy="667.3" rx="2.0" ry="2.2" fill="#161616"/>
<ellipse cx="673.3" cy="672.9" rx="2.0" ry="2.2" fill="#161616"/>
<path d="M509.0 582.4 V633.9 M509.0 643.9 V720.1 " stroke="#1a1a1a" stroke-width="1.3" fill="none"/>
<path d="M506 720.1 H685" stroke="#161616" stroke-width="1.6" fill="none"/>
<path d="M505.8 583 H509.0 M505.8 603.4 H509.0 M505.8 623.9 H509.0 M505.8 681.9 H509.0 M505.6 633.9 H512.2 M505.6 643.9 H512.2 M520.1 720.1 V724.6 M542.0 720.1 V724.6 M564.0 720.1 V724.6 M586.0 720.1 V724.6 M607.6 720.1 V724.6 M629.5 720.1 V724.6 M651.4 720.1 V724.6 M673.3 720.1 V724.6 " stroke="#1c1c1c" stroke-width="1.2" fill="none"/>
<text x="498.5" y="586.6" font-size="14" text-anchor="end">2400</text>
<text x="498.5" y="607.5" font-size="14" text-anchor="end">1600</text>
<text x="498.5" y="628.3" font-size="14" text-anchor="end">800</text>
<text x="498.5" y="650.3" font-size="14" text-anchor="end">400</text>
<text x="498.5" y="687.2" font-size="14" text-anchor="end">200</text>
<text x="454.0" y="640.9" font-size="14.4" text-anchor="middle" transform="rotate(-90 454.0 640.9)">TNF-α ( pg/mL )</text>
<text x="542.8" y="638.2" font-size="8.8" text-anchor="middle" fill="#222" font-weight="700" letter-spacing="0.87">***</text>
<text x="564.8" y="647.5" font-size="8.8" text-anchor="middle" fill="#222" font-weight="700" letter-spacing="0.87">***</text>
<text x="586.0" y="687.0" font-size="11.8" text-anchor="middle" fill="#161616" textLength="9.7" lengthAdjust="spacingAndGlyphs">ns</text>
<text x="607.6" y="686.0" font-size="11.8" text-anchor="middle" fill="#161616" textLength="9.7" lengthAdjust="spacingAndGlyphs">ns</text>
<text x="630.3" y="619.9" font-size="8.8" text-anchor="middle" fill="#222" font-weight="700" letter-spacing="0.87">***</text>
<text x="652.2" y="578.0" font-size="8.8" text-anchor="middle" fill="#222" font-weight="700" letter-spacing="0.87">***</text>
<text x="674.1" y="659.9" font-size="8.8" text-anchor="middle" fill="#222" font-weight="700" letter-spacing="0.87">**</text>
<text x="517.9" y="740.1" font-size="14.5" text-anchor="start">-</text>
<text x="545.9" y="739.3" font-size="14.5" text-anchor="end" transform="rotate(-46.7 545.9 739.3)">asenapine</text>
<text x="567.4" y="739.1" font-size="14.5" text-anchor="end" transform="rotate(-48.1 567.4 739.1)">amitriptyline</text>
<text x="589.0" y="738.8" font-size="14.5" text-anchor="end" transform="rotate(-51.4 589.0 738.8)">mirtazapine</text>
<text x="610.5" y="738.7" font-size="14.5" text-anchor="end" transform="rotate(-52.0 610.5 738.7)">agomelatine</text>
<text x="632.0" y="738.4" font-size="14.5" text-anchor="end" transform="rotate(-55.9 632.0 738.4)">paroxetine</text>
<text x="653.5" y="738.3" font-size="14.5" text-anchor="end" transform="rotate(-56.9 653.5 738.3)">fluoxetine</text>
<text x="675.0" y="738.0" font-size="14.5" text-anchor="end" transform="rotate(-60.4 675.0 738.0)">imipramine</text>
</svg>
</body></html>
